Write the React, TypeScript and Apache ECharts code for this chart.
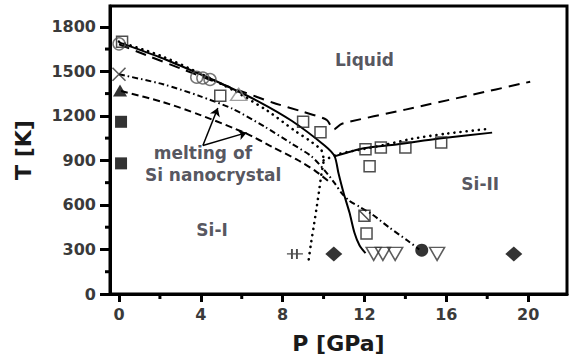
import { useEffect, useRef } from "react";
import * as echarts from "echarts";

// Axis ranges and ticks
const X_MIN = -0.44;
const X_MAX = 21.9;
const Y_MIN = 0;
const Y_MAX = 1940;
const X_MAJOR = [0, 4, 8, 12, 16, 20];
const X_MINOR = [2, 6, 10, 14, 18];
const Y_MAJOR = [0, 300, 600, 900, 1200, 1500, 1800];
const Y_MINOR = [150, 450, 750, 1050, 1350, 1650];

// Phase boundaries [P (GPa), T (K)]
const solidMeltAndBoundary = [
  [0, 1695], [2.0, 1595], [3.95, 1482], [5.17, 1407], [6.78, 1300], [8.44, 1167],
  [10.05, 1000], [10.54, 927], [10.73, 813], [10.98, 680], [11.27, 547],
  [11.51, 413], [11.76, 327], [12.05, 275],
];
const solidSiII = [[10.54, 927], [11.9, 980], [13.56, 1007], [15.66, 1047], [18.24, 1087]];
const longDash = [
  [0, 1682], [1.5, 1600], [3, 1520], [4.5, 1440], [6, 1365], [7.5, 1290], [9, 1227],
  [10.15, 1173], [10.5, 1108], [10.9, 1147], [14, 1242], [17, 1334], [20.1, 1430],
];
const dottedMelt = [
  [0, 1700], [2.0, 1607], [3.95, 1487], [5.66, 1367], [7.27, 1233], [8.59, 1100],
  [9.32, 1033], [9.9, 967], [10.0, 900], [9.9, 813], [9.8, 713], [9.66, 580],
  [9.51, 447], [9.37, 327], [9.27, 227],
];
const dottedSiII = [[10.0, 900], [10.8, 945], [12, 978], [13, 1005], [14.3, 1045], [16, 1080], [18.1, 1113]];
const nanoUpper = [
  [0, 1480], [2.15, 1413], [3.95, 1333], [5.56, 1247], [7.12, 1127], [8.44, 1013],
  [9.41, 927], [10.05, 833], [10.54, 747], [10.88, 680], [11.27, 627], [11.76, 587],
  [12.34, 540], [13.22, 447], [14.1, 360], [14.68, 300],
];
const nanoLower = [
  [0.1, 1367], [2.15, 1293], [3.95, 1207], [6.24, 1080], [7.46, 993], [8.68, 907],
  [9.56, 833], [10.3, 753],
];

// Experimental points
const openSquares = [
  [0.15, 1700], [4.95, 1335], [9.0, 1160], [9.85, 1090], [12.05, 975], [12.8, 987],
  [14.0, 987], [15.75, 1020], [12.25, 860], [12.1, 407],
];
const slashSquares = [[12.0, 527]];
const openCircles = [[0, 1685], [3.8, 1460], [4.1, 1455], [4.45, 1445]];
const openTriUp = [[5.85, 1345]];
const crosses = [[0, 1480]];
const filledTri = [[0.05, 1370]];
const filledSquares = [[0.1, 1160], [0.1, 880]];
const diamonds = [[10.5, 270], [19.3, 270]];
const downTri = [[12.45, 270], [12.9, 270], [13.5, 270], [15.55, 270]];
const filledCircles = [[14.8, 295]];
const barMarks = [[8.6, 270]];

// Arrows (data coordinates)
const arrowFrom = [4.1, 1000];
const arrowToUpper = [4.83, 1253];
const arrowToLower = [6.24, 1087];

// Region labels
const regionLabels = [
  { name: "Liquid", value: [12.0, 1573] },
  { name: "Si-II", value: [17.66, 740] },
  { name: "Si-I", value: [4.55, 433] },
  { name: "melting of", value: [4.1, 953] },
  { name: "Si nanocrystal", value: [4.6, 800] },
];

const FONT = "DejaVu Sans";

export default function App() {
  const ref = useRef<HTMLDivElement>(null);
  useEffect(() => {
    if (!ref.current) return;
    const chart = echarts.init(ref.current, undefined, { renderer: "svg" });

    const lineSeries = (data: number[][], type: any, width = 2, extra: any = {}) => ({
      type: "line",
      data,
      showSymbol: false,
      symbol: "none",
      smooth: 0.25,
      silent: true,
      lineStyle: { color: "#000", width, type, ...extra },
      z: 2,
    });

    const scatter = (data: number[][], symbol: string, size: any, style: any, extra: any = {}) => ({
      type: "scatter",
      data,
      symbol,
      symbolSize: size,
      silent: true,
      itemStyle: style,
      z: 5,
      ...extra,
    });

    const hollow = (c: string, w = 1.5) => ({ color: "rgba(255,255,255,0)", borderColor: c, borderWidth: w });
    const plain = (v: number) => String(v);

    // minor ticks drawn through the axis scales
    const minorTicks = (data: number[][], horizontal: boolean) => ({
      type: "custom",
      data,
      silent: true,
      clip: false,
      z: 10,
      renderItem: (_p: any, api: any) => {
        const c = api.coord([api.value(0), api.value(1)]);
        const shape = horizontal
          ? { x1: c[0], y1: c[1], x2: c[0], y2: c[1] + 5 }
          : { x1: c[0] - 5, y1: c[1], x2: c[0], y2: c[1] };
        return { type: "line", shape, style: { stroke: "#000", lineWidth: 3 } };
      },
    });

    chart.setOption({
      animation: false,
      grid: {
        left: 110, right: 6, top: 6, bottom: 62,
        show: true, borderColor: "#000", borderWidth: 3,
      },
      xAxis: {
        type: "value",
        min: X_MIN, max: X_MAX, position: "bottom",
        splitLine: { show: false },
        axisLine: { show: true, onZero: false, lineStyle: { color: "#000", width: 3 } },
        axisTick: { show: true, customValues: X_MAJOR, length: 8, lineStyle: { color: "#000", width: 3 } },
        axisLabel: { customValues: X_MAJOR, formatter: plain, margin: 12, color: "#3a3a3a", fontFamily: FONT, fontSize: 16, fontWeight: "bold" },
        name: "P [GPa]", nameLocation: "middle", nameGap: 38,
        nameTextStyle: { color: "#1a1a1a", fontFamily: FONT, fontSize: 22, fontWeight: "bold", verticalAlign: "top" },
      },
      yAxis: {
        type: "value",
        min: Y_MIN, max: Y_MAX, position: "left",
        splitLine: { show: false },
        axisLine: { show: true, onZero: false, lineStyle: { color: "#000", width: 3 } },
        axisTick: { show: true, customValues: Y_MAJOR, length: 10, lineStyle: { color: "#000", width: 3 } },
        axisLabel: { customValues: Y_MAJOR, formatter: plain, margin: 14, color: "#3a3a3a", fontFamily: FONT, fontSize: 16, fontWeight: "bold" },
        name: "T [K]", nameLocation: "middle", nameGap: 76, nameRotate: 90,
        nameTextStyle: { color: "#1a1a1a", fontFamily: FONT, fontSize: 22, fontWeight: "bold" },
      },
      series: [
        lineSeries(solidMeltAndBoundary, "solid", 2),
        lineSeries(solidSiII, "solid", 2),
        lineSeries(longDash, [11, 7], 2),
        lineSeries(dottedMelt, [0.1, 6], 2.6, { cap: "round" }),
        lineSeries(dottedSiII, [0.1, 6], 2.6, { cap: "round" }),
        lineSeries(nanoUpper, [6, 3, 1.5, 3], 2),
        lineSeries(nanoLower, [7, 4], 2),
        {
          type: "lines",
          coordinateSystem: "cartesian2d",
          silent: true,
          symbol: ["none", "arrow"],
          symbolSize: 8,
          lineStyle: { color: "#000", width: 1.5, opacity: 1, curveness: 0 },
          data: [{ coords: [arrowFrom, arrowToUpper] }, { coords: [arrowFrom, arrowToLower] }],
          z: 4,
        },
        scatter(openSquares, "rect", 11, hollow("#222")),
        scatter(slashSquares, "path://M0,0L10,0L10,10L0,10Z M0,0L10,10", 11, hollow("#222")),
        scatter(openCircles, "circle", 12, hollow("#555")),
        scatter(openTriUp, "triangle", [16, 12], hollow("#888")),
        scatter(crosses, "path://M0,0L10,10M10,0L0,10", 13, hollow("#333", 1.6)),
        scatter(filledTri, "triangle", [14, 12], { color: "#000" }),
        scatter(filledSquares, "rect", 12, { color: "#000" }),
        scatter(diamonds, "diamond", [17, 15], { color: "#000" }),
        scatter(downTri, "triangle", [15, 13], hollow("#333"), { symbolRotate: 180 }),
        scatter(filledCircles, "circle", 13, { color: "#000" }),
        scatter(barMarks, "path://M0,5L16,5M5,0L5,10M10,0L10,10", [16, 10], hollow("#222", 1.5)),
        minorTicks(X_MINOR.map((v) => [v, Y_MIN]), true),
        minorTicks(Y_MINOR.map((v) => [X_MIN, v]), false),
        {
          type: "scatter",
          data: regionLabels,
          symbol: "circle",
          symbolSize: 1,
          silent: true,
          itemStyle: { color: "rgba(0,0,0,0)" },
          label: {
            show: true, position: "inside", formatter: "{b}",
            color: "#2a2a35", fontFamily: FONT, fontSize: 17, fontWeight: "bold",
          },
          z: 6,
        },
      ],
    });
    return () => chart.dispose();
  }, []);

  return (
    <div
      ref={ref}
      style={{ position: "fixed", left: 0, top: 0, width: 573, height: 359, background: "#fff" }}
    />
  );
}
